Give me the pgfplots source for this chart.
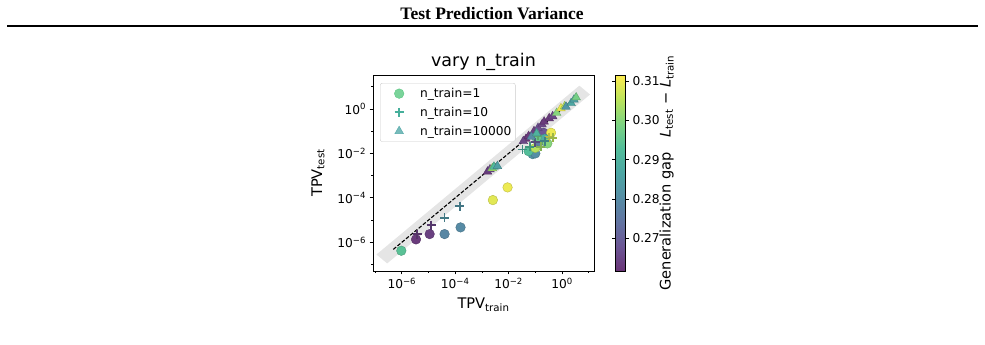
\documentclass[border=0pt]{standalone}
\usepackage{fontspec}
\setmainfont{DejaVu Sans}
\newfontfamily\headfont{Liberation Serif}
\usepackage{pgfplots}
\pgfplotsset{compat=1.18}

\pgfplotsset{
  colormap={fadedviridis}{
    rgb255(0cm)=(105,52,118)
    rgb255(1cm)=(108,86,149)
    rgb255(2cm)=(98,116,162)
    rgb255(3cm)=(86,141,165)
    rgb255(4cm)=(77,166,164)
    rgb255(5cm)=(82,189,154)
    rgb255(6cm)=(125,211,130)
    rgb255(7cm)=(187,227,91)
    rgb255(8cm)=(253,236,81)
  }
}
\definecolor{legcirc}{RGB}{90,200,130}
\definecolor{legplus}{RGB}{70,175,155}
\definecolor{legtri}{RGB}{85,170,170}

\pgfplotstableread{
x y c
9.55e-7 4.17e-7 0.294
3.39e-6 1.35e-6 0.263
1.10e-5 2.34e-6 0.264
3.98e-5 2.34e-6 0.279
1.58e-4 4.68e-6 0.280
2.57e-3 7.94e-5 0.309
9.12e-3 2.95e-4 0.310
0.0794 9.33e-3 0.283
0.100 0.0100 0.281
0.0562 0.0126 0.293
0.100 0.0178 0.305
0.141 0.0339 0.277
0.204 0.0851 0.268
0.389 0.0851 0.310
0.224 0.0457 0.288
0.282 0.0282 0.300
0.112 0.0501 0.296
}\circdata

\pgfplotstableread{
x y c
3.80e-6 2.34e-6 0.264
1.26e-5 5.89e-6 0.265
3.98e-5 1.29e-5 0.283
1.48e-4 4.27e-5 0.282
0.0331 0.0151 0.288
0.0631 0.0200 0.292
0.162 0.0200 0.303
0.331 0.0537 0.309
0.224 0.0355 0.285
0.100 0.0316 0.270
0.126 0.0631 0.298
0.447 0.0501 0.306
}\plusdata

\pgfplotstableread{
x y c
1.62e-3 1.51e-3 0.263
2.00e-3 1.91e-3 0.266
2.45e-3 2.14e-3 0.303
2.82e-3 2.51e-3 0.292
3.80e-3 2.69e-3 0.285
0.0447 0.0447 0.262
0.0355 0.0355 0.265
0.0562 0.0603 0.263
0.0891 0.100 0.264
0.126 0.141 0.267
0.178 0.200 0.265
0.0708 0.0562 0.280
0.112 0.0794 0.290
0.214 0.269 0.263
0.331 0.380 0.263
0.447 0.468 0.265
0.631 0.661 0.300
0.912 1.07 0.310
1.26 1.32 0.305
1.41 1.26 0.283
2.19 1.82 0.287
2.82 2.63 0.285
3.39 3.31 0.298
}\tridata

\begin{document}
\begin{tikzpicture}
\path[use as bounding box] (0,0) rectangle (985pt,345pt);
\node[font=\headfont\bfseries\fontsize{17.5}{20}\selectfont] at (492pt,331pt) {Test Prediction Variance};
\draw[line width=1.8pt] (7pt,319pt) -- (978pt,319pt);
\begin{axis}[
  at={(373pt,74pt)}, anchor=south west,
  scale only axis, width=221pt, height=196pt,
  xmode=log, ymode=log,
  xmin=8.3e-8, xmax=15.8, ymin=5.1e-8, ymax=33.9,
  xtick={1e-6,1e-4,1e-2,1},
  xticklabels={10\textsuperscript{−6},10\textsuperscript{−4},10\textsuperscript{−2},10\textsuperscript{0}},
  ytick={1e-6,1e-4,1e-2,1},
  yticklabels={10\textsuperscript{−6},10\textsuperscript{−4},10\textsuperscript{−2},10\textsuperscript{0}},
  minor xtick={1e-7,1e-5,1e-3,1e-1,10},
  minor ytick={1e-7,1e-5,1e-3,1e-1,10},
  tick align=outside, xtick pos=bottom, ytick pos=left,
  major tick length=3.5pt, minor tick length=2pt,
  every tick/.style={black, line width=0.8pt},
  axis line style={line width=0.8pt},
  tick label style={font=\fontsize{12.2}{14}\selectfont},
  xlabel={TPV\textsubscript{train}}, ylabel={TPV\textsubscript{test}},
  xlabel style={font=\fontsize{14.6}{17}\selectfont, yshift=-2pt},
  ylabel style={font=\fontsize{14.6}{17}\selectfont, yshift=6pt},
  title={vary n\_train},
  title style={font=\fontsize{17.5}{20}\selectfont, yshift=-5pt},
  colormap name=fadedviridis,
  point meta min=0.2617, point meta max=0.3115,
  colorbar,
  colorbar style={
    at={(parent axis.north east)}, anchor=north west, xshift=13pt,
    width=10pt,
    ytick={0.27,0.28,0.29,0.30,0.31},
    yticklabels={0.27,0.28,0.29,0.30,0.31},
    yticklabel style={font=\fontsize{12.2}{14}\selectfont},
    ylabel={Generalization gap\quad \textit{L}\textsubscript{test} − \textit{L}\textsubscript{train}},
    ylabel style={font=\fontsize{14.6}{17}\selectfont},
    ylabel shift=-7pt,
    tick align=outside, major tick length=3.5pt,
    every tick/.style={black, line width=0.8pt},
    axis line style={line width=0.8pt},
  },
  legend image code/.code={\path (0pt,-5pt) (34pt,5pt); \draw[#1] plot coordinates {(16pt,0pt)};},
  legend style={at={(0.032,0.959)}, anchor=north west, draw=black!20,
    rounded corners=2pt, fill=white, fill opacity=0.8, text opacity=1,
    font=\fontsize{12.2}{14}\selectfont, row sep=4pt, inner ysep=3pt, inner xsep=2pt},
  legend cell align=left,
]
\addplot[draw=none, fill=black!10, forget plot] coordinates {(1.12e-7,2.82e-7) (2.82e-7,1.12e-7) (11.2,4.47) (4.47,11.2)} -- cycle;
\addplot[black, line width=1.1pt, dash pattern=on 3.7pt off 1.8pt, forget plot] coordinates {(4.79e-7,4.79e-7) (2.82,2.82)};

\addplot[scatter, only marks, mark=*, mark size=4.8pt, scatter src=explicit, forget plot] table[x=x, y=y, meta=c] {\circdata};
\addplot[scatter, only marks, mark=+, mark size=4.5pt, line width=1.8pt, scatter src=explicit, forget plot] table[x=x, y=y, meta=c] {\plusdata};
\addplot[scatter, only marks, mark=triangle*, mark size=5pt, scatter src=explicit, forget plot] table[x=x, y=y, meta=c] {\tridata};

\addlegendimage{only marks, mark=*, mark size=4.8pt, color=legcirc}
\addlegendentry{n\_train=1}
\addlegendimage{only marks, mark=+, mark size=4.5pt, line width=1.8pt, color=legplus}
\addlegendentry{n\_train=10}
\addlegendimage{only marks, mark=triangle*, mark size=5pt, color=legtri}
\addlegendentry{n\_train=10000}
\end{axis}
\end{tikzpicture}
\end{document}
